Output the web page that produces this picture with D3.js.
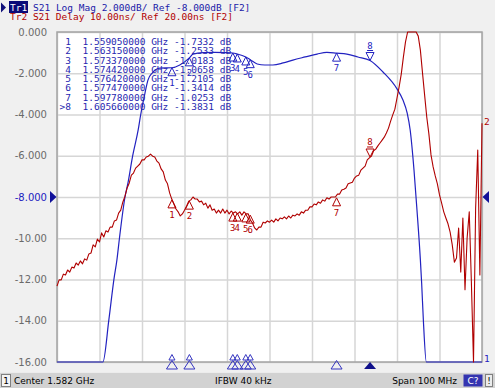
<!DOCTYPE html>
<html>
<head>
<meta charset="utf-8">
<script src="https://cdn.jsdelivr.net/npm/d3@7"></script>
<style>
body {margin: 0; background: #f0f0f0;}
svg {display: block;}
text {white-space: pre;}
</style>
</head>
<body>
<svg id="chart" width="495" height="388"></svg>
<script>
let width = 495;
let height = 388;
let m = {left: 57, right: 482, top: 32, bottom: 362};

// axis / grid
let dbTicks = [0, -2, -4, -6, -8, -10, -12, -14, -16];
let yTickLabels = ['0.000', '-2.000', '-4.000', '-6.000', '-8.000', '-10.00', '-12.00', '-14.00', '-16.00'];
let freqGrid = [1.532, 1.542, 1.552, 1.562, 1.572, 1.582, 1.592, 1.602, 1.612, 1.622, 1.632];

// Tr1: S21 log mag (GHz, dB)
let s21Freq = [1.5320, 1.5428, 1.5442, 1.5454, 1.5461, 1.5467, 1.5480, 1.5487, 1.5498, 1.5511,
  1.5517, 1.5527, 1.5534, 1.5544, 1.5562, 1.55905, 1.5609, 1.56315, 1.5640, 1.5664,
  1.5692, 1.5715, 1.57337, 1.57442, 1.57642, 1.57747, 1.5791, 1.5809, 1.5828, 1.5852,
  1.5875, 1.5904, 1.5932, 1.5955, 1.59778, 1.6002, 1.6028, 1.60566, 1.6087, 1.6120,
  1.6134, 1.6144, 1.6151, 1.6160, 1.6167, 1.6175, 1.6178, 1.6182, 1.6189, 1.6320];
let s21Db = [-16, -16, -13.96, -11.98, -11.05, -9.99, -8.0, -7.32, -6.01, -4.75,
  -4.0, -2.96, -2.33, -1.99, -1.75, -1.7332, -1.60, -1.2533, -1.07, -1.00,
  -0.99, -1.00, -1.0183, -1.0658, -1.2105, -1.3414, -1.55, -1.60, -1.60, -1.50,
  -1.36, -1.21, -1.07, -0.99, -1.0253, -1.07, -1.21, -1.3831, -1.94, -2.76,
  -3.30, -3.93, -4.75, -6.69, -8.63, -11.05, -12.17, -13.96, -16, -16];

// Tr2: S21 group delay (MHz, ns)
let delayFreq = [1532, 1532.5, 1533, 1533.5, 1534, 1534.5, 1535, 1535.5, 1536, 1536.5,
  1537, 1537.5, 1538, 1538.5, 1539, 1539.5, 1540, 1540.5, 1541, 1541.5,
  1542, 1542.5, 1543, 1543.5, 1544, 1544.5, 1545, 1545.5, 1546, 1546.5,
  1547, 1547.5, 1548, 1548.5, 1549, 1549.5, 1550, 1550.5, 1551, 1551.5,
  1552, 1552.5, 1553, 1553.5, 1554, 1554.5, 1555, 1555.5, 1556, 1556.5,
  1557, 1557.5, 1558, 1558.5, 1559, 1559.5, 1560, 1560.5, 1561, 1561.5,
  1562, 1562.5, 1563, 1563.5, 1564, 1564.5, 1565, 1565.5, 1566, 1566.5,
  1567, 1567.5, 1568, 1568.5, 1569, 1569.5, 1570, 1570.5, 1571, 1571.5,
  1572, 1572.5, 1573, 1573.5, 1574, 1574.5, 1575, 1575.5, 1576, 1576.5,
  1577, 1577.5, 1578, 1578.5, 1579, 1579.5, 1580, 1580.5, 1581, 1581.5,
  1582, 1582.5, 1583, 1583.5, 1584, 1584.5, 1585, 1585.5, 1586, 1586.5,
  1587, 1587.5, 1588, 1588.5, 1589, 1589.5, 1590, 1590.5, 1591, 1591.5,
  1592, 1592.5, 1593, 1593.5, 1594, 1594.5, 1595, 1595.5, 1596, 1596.5,
  1597, 1597.5, 1598, 1598.5, 1599, 1599.5, 1600, 1600.5, 1601, 1601.5,
  1602, 1602.5, 1603, 1603.5, 1604, 1604.5, 1605, 1605.5, 1606, 1606.5,
  1607, 1607.5, 1608, 1608.5, 1609, 1609.5, 1610, 1610.5, 1611, 1611.5,
  1612, 1612.5, 1613, 1613.5, 1614, 1614.5, 1615, 1615.5, 1616, 1616.5,
  1617, 1617.5, 1618, 1618.5, 1619, 1619.5, 1620, 1620.5, 1621, 1621.5,
  1622, 1622.5, 1623, 1623.5, 1624, 1624.5, 1625, 1625.5, 1626, 1626.5,
  1627, 1627.5, 1628, 1628.5, 1629, 1629.5, 1630, 1630.5, 1631, 1631.5,
  1632];
let delayNs = [-1.6, -0.1, -0.1, 1.3, 1.1, 2.3, 1.8, 3.0, 2.8, 4.0,
  3.5, 4.5, 3.8, 5.0, 4.7, 6.2, 6.4, 8.4, 7.9, 9.8,
  9.1, 11.3, 10.3, 11.8, 11.5, 12.7, 12.7, 14.2, 14.4, 16.1,
  16.8, 18.8, 20.2, 22.2, 23.4, 25.3, 25.8, 27.0, 27.5, 28.0,
  29.0, 29.0, 29.7, 29.9, 30.4, 29.9, 29.7, 28.7, 28.2, 26.8,
  26.1, 24.1, 23.2, 21.0, 19.5, 18.3, 17.1, 16.4, 15.4, 15.9,
  16.8, 17.8, 19.0, 19.3, 20.0, 19.5, 19.5, 18.8, 19.0, 18.1,
  18.5, 17.3, 18.1, 16.8, 17.1, 16.1, 16.8, 16.1, 17.1, 16.1,
  16.8, 15.9, 16.6, 16.1, 16.4, 15.9, 16.4, 15.6, 16.4, 15.9,
  15.9, 14.4, 13.7, 12.5, 12.0, 12.7, 12.7, 13.9, 13.7, 14.2,
  13.9, 14.4, 13.9, 14.7, 14.2, 14.9, 14.7, 15.2, 14.7, 15.4,
  14.9, 15.6, 15.4, 15.9, 15.6, 16.4, 16.1, 16.8, 16.8, 17.6,
  17.6, 18.3, 18.1, 18.8, 18.5, 19.3, 19.0, 19.8, 19.5, 20.0,
  20.0, 20.0, 20.7, 20.7, 21.7, 21.9, 22.2, 23.2, 23.4, 23.6,
  24.6, 25.1, 25.3, 26.5, 27.0, 27.5, 29.0, 29.5, 29.9, 31.2,
  31.6, 32.4, 33.1, 33.8, 34.5, 35.5, 36.7, 38.4, 39.9, 41.3,
  44.0, 46.7, 49.8, 53.9, 57.6, 64, 68, 70, 69, 64,
  59.0, 55.6, 50.1, 44.7, 39.4, 35.3, 30.2, 27.3, 25.1, 23.2,
  20.5, 18.5, 16.4, 14.9, 13.5, 11.5, 8.4, 4.2, 5.2, 12.5,
  1.8, 14.9, -2.5, 10.1, 16.4, -0.6, -22, 17.3, 31.4, 1.1,
  37.9];

// markers
let markerNames = ['1', '2', '3', '4', '5', '6', '7', '8'];
let markerFreq = [1.55905, 1.56315, 1.57337, 1.57442, 1.57642, 1.57747, 1.59778, 1.60566];
let markerDb = [-1.7332, -1.2533, -1.0183, -1.0658, -1.2105, -1.3414, -1.0253, -1.3831];
let markerDelay = [19.3, 19.0, 16.1, 16.1, 15.9, 15.6, 19.8, 29.7];
let activeMarker = 7;

let blue = '#2222c0';
let red = '#b00000';
let mono = '"DejaVu Sans Mono", monospace';
let sans = '"DejaVu Sans", sans-serif';

let fmt = d3.formatLocale({decimal: '.', thousands: ',', grouping: [3], currency: ['', ''], minus: '-'});
let fmtFreq = fmt.format('.9f');
let fmtDb = fmt.format('.4f');

let svg = d3.select('#chart');

let x = d3.scaleLinear().domain([1.532, 1.632]).range([m.left, m.right]);
let yDb = d3.scaleLinear().domain([-16, 0]).range([m.bottom, m.top]).clamp(true);
let yNs = d3.scaleLinear().domain([-20, 60]).range([m.bottom, m.top]).clamp(true);

svg.append('rect').attr('width', width).attr('height', height).attr('fill', '#f0f0f0');
svg.append('rect')
    .attr('x', m.left).attr('y', m.top)
    .attr('width', m.right - m.left).attr('height', m.bottom - m.top)
    .attr('fill', '#fff');

// grid
svg.append('g')
    .attr('transform', `translate(0,${m.bottom})`)
    .call(d3.axisBottom(x).tickValues(freqGrid).tickSize(-(m.bottom - m.top)).tickFormat(''))
    .call(g => g.select('.domain').remove())
    .selectAll('line').attr('stroke', '#d6d6d6').attr('stroke-width', 1.5);
svg.append('g')
    .attr('transform', `translate(${m.left},0)`)
    .call(d3.axisLeft(yDb).tickValues(dbTicks).tickSize(-(m.right - m.left)).tickFormat(''))
    .call(g => g.select('.domain').remove())
    .selectAll('line').attr('stroke', '#d6d6d6').attr('stroke-width', 1.5);

svg.append('rect')
    .attr('x', m.left).attr('y', m.top)
    .attr('width', m.right - m.left).attr('height', m.bottom - m.top)
    .attr('fill', 'none').attr('stroke', '#a4a4a4').attr('stroke-width', 1.5);

// y labels
svg.append('g')
    .attr('transform', 'translate(47,0)')
    .call(d3.axisLeft(yDb).tickValues(dbTicks).tickSize(0).tickPadding(0)
        .tickFormat((d, i) => yTickLabels[i]))
    .call(g => g.select('.domain').remove())
    .selectAll('text')
        .attr('font-family', sans).attr('font-size', 10)
        .attr('fill', d => d === -8 ? blue : '#6a6a6a');

// ref arrows
svg.append('path').attr('d', 'M50,191L56.5,197L50,203Z').attr('fill', '#10109a');
svg.append('path').attr('d', 'M489,191L482.5,197L489,203Z').attr('fill', '#10109a');

// traces
let traces = svg.append('g');
let s21Line = d3.line()
    .x(d => x(d[0])).y(d => yDb(d[1]))
    .curve(d3.curveMonotoneX);
traces.append('path')
    .datum(d3.zip(s21Freq, s21Db))
    .attr('d', s21Line)
    .attr('fill', 'none').attr('stroke', blue).attr('stroke-width', 1.2);

let delayLine = d3.line()
    .x(d => x(d[0] / 1000)).y(d => yNs(d[1]));
traces.append('path')
    .datum(d3.zip(delayFreq, delayNs))
    .attr('d', delayLine)
    .attr('fill', 'none').attr('stroke', red).attr('stroke-width', 1.1)
    .attr('stroke-linejoin', 'round');

// trace end labels
svg.append('text').attr('x', 484).attr('y', yNs(delayNs[delayNs.length - 1]) + 2)
    .attr('font-family', mono).attr('font-size', 9.5).attr('fill', red).text('2');
svg.append('text').attr('x', 484).attr('y', yDb(s21Db[s21Db.length - 1]) + 0)
    .attr('font-family', mono).attr('font-size', 9.5).attr('fill', blue).text('1');

// marker symbols on the traces
let drawMarkers = (yScale, values, color) => {
    let g = svg.append('g').attr('fill', 'none').attr('stroke', color).attr('stroke-width', 1);
    markerNames.forEach((name, i) => {
        let mx = x(markerFreq[i]);
        let my = yScale(values[i]);
        if (i === activeMarker) {
            g.append('path').attr('d', `M${mx},${my}L${mx - 4},${my - 8}L${mx + 4},${my - 8}Z`);
            g.append('path').attr('d', `M${mx - 3},${my - 10}L${mx + 3},${my - 10}`);
            g.append('text').attr('x', mx).attr('y', my - 12)
                .attr('text-anchor', 'middle').attr('stroke', 'none').attr('fill', color)
                .attr('font-family', mono).attr('font-size', 9).text(name);
        } else {
            g.append('path').attr('d', `M${mx},${my}L${mx - 4},${my + 8}L${mx + 4},${my + 8}Z`);
            g.append('text').attr('x', mx).attr('y', my + 18)
                .attr('text-anchor', 'middle').attr('stroke', 'none').attr('fill', color)
                .attr('font-family', mono).attr('font-size', 9).text(name);
        }
    });
};
drawMarkers(yDb, markerDb, blue);
drawMarkers(yNs, markerDelay, red);

// marker table
let table = svg.append('g').attr('font-family', mono).attr('font-size', 9.5).attr('fill', '#2828b0');
markerNames.forEach((name, i) => {
    let ty = 45 + i * 9.29;
    table.append('text').attr('x', 71).attr('y', ty).attr('text-anchor', 'end')
        .text((i === activeMarker ? '>' : '') + name);
    table.append('text').attr('x', 82.5).attr('y', ty)
        .text(`${fmtFreq(markerFreq[i])} GHz ${fmtDb(markerDb[i])} dB`);
});

// marker position ticks on the bottom edge
let bottomMk = svg.append('g');
markerNames.forEach((name, i) => {
    let mx = x(markerFreq[i]);
    if (i === activeMarker) {
        bottomMk.append('path').attr('d', `M${mx},362L${mx - 6},369L${mx + 6},369Z`).attr('fill', '#10108a');
    } else {
        if (i < 6) {
            bottomMk.append('path').attr('d', `M${mx},354.5L${mx - 3},360L${mx + 3},360Z`)
                .attr('fill', 'none').attr('stroke', '#3535c0');
        }
        bottomMk.append('path').attr('d', `M${mx},360.5L${mx - 5.5},369L${mx + 5.5},369Z`)
            .attr('fill', 'none').attr('stroke', '#3535c0');
    }
});

// header
svg.append('path').attr('d', 'M1,2.5L6,7.5L1,12.5Z').attr('fill', '#10107a');
svg.append('rect').attr('x', 9).attr('y', 1).attr('width', 19).attr('height', 12).attr('fill', '#0a0a78');
svg.append('text').attr('x', 10).attr('y', 10.5).attr('font-family', mono).attr('font-size', 9.5)
    .attr('fill', '#fff').text('Tr1');
svg.append('text').attr('x', 33).attr('y', 10.5).attr('font-family', mono).attr('font-size', 9.5)
    .attr('fill', '#2020a8').text('S21 Log Mag 2.000dB/ Ref -8.000dB [F2]');
svg.append('text').attr('x', 10).attr('y', 20).attr('font-family', mono).attr('font-size', 9.5)
    .attr('fill', red).text('Tr2 S21 Delay 10.00ns/ Ref 20.00ns [F2]');

// status bar
let bar = svg.append('g');
bar.append('rect').attr('x', 0).attr('y', 372).attr('width', width).attr('height', 16).attr('fill', '#d2d2d2');
bar.append('line').attr('x1', 0).attr('x2', width).attr('y1', 372.5).attr('y2', 372.5).attr('stroke', '#ececec');
bar.append('rect').attr('x', 1.5).attr('y', 374.5).attr('width', 9).attr('height', 12)
    .attr('fill', '#f4f4f4').attr('stroke', '#808080');
bar.append('text').attr('x', 6).attr('y', 384).attr('text-anchor', 'middle')
    .attr('font-family', sans).attr('font-size', 9).attr('fill', '#000').text('1');
bar.append('text').attr('x', 14).attr('y', 384).attr('font-family', sans).attr('font-size', 9)
    .attr('fill', '#000').text('Center 1.582 GHz');
bar.append('text').attr('x', 215).attr('y', 384).attr('font-family', sans).attr('font-size', 9)
    .attr('fill', '#000').text('IFBW 40 kHz');
bar.append('text').attr('x', 457).attr('y', 384).attr('text-anchor', 'end').attr('font-family', sans).attr('font-size', 9)
    .attr('fill', '#000').text('Span 100 MHz');
bar.append('rect').attr('x', 463.5).attr('y', 374.5).attr('width', 19).attr('height', 12).attr('fill', '#3434b0');
bar.append('text').attr('x', 473).attr('y', 384).attr('text-anchor', 'middle')
    .attr('font-family', sans).attr('font-size', 9).attr('fill', '#fff').text('C?');
bar.append('rect').attr('x', 485.5).attr('y', 374.5).attr('width', 7).attr('height', 12)
    .attr('fill', '#ececec').attr('stroke', '#808080');
bar.append('text').attr('x', 489).attr('y', 384).attr('text-anchor', 'middle')
    .attr('font-family', sans).attr('font-size', 9).attr('fill', '#000').text('!');
</script>
</body>
</html>
